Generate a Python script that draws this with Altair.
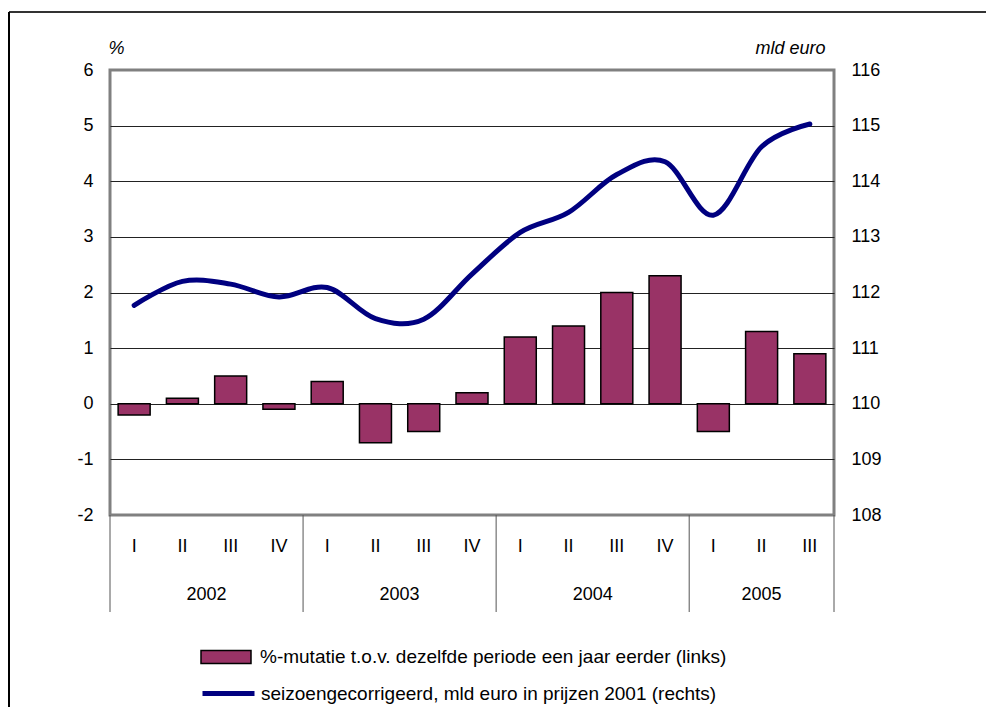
import altair as alt
import pandas as pd

# ---- data ----
quarters = ["I", "II", "III", "IV", "I", "II", "III", "IV", "I", "II", "III", "IV", "I", "II", "III"]
years = ["2002"] * 4 + ["2003"] * 4 + ["2004"] * 4 + ["2005"] * 3
pct_change = [-0.2, 0.1, 0.5, -0.1, 0.4, -0.7, -0.5, 0.2, 1.2, 1.4, 2.0, 2.3, -0.5, 1.3, 0.9]
level_bn = [111.77, 112.20, 112.15, 111.92, 112.09, 111.53, 111.52, 112.33,
            113.08, 113.44, 114.12, 114.35, 113.39, 114.62, 115.03]

bar_label = "%-mutatie t.o.v. dezelfde periode een jaar eerder (links)"
line_label = "seizoengecorrigeerd, mld euro in prijzen 2001 (rechts)"
left_ticks = [-2, -1, 0, 1, 2, 3, 4, 5, 6]
right_ticks = [108, 109, 110, 111, 112, 113, 114, 115, 116]

FONT = "Liberation Sans"
W, H = 724, 445

df = pd.DataFrame({"quarter": quarters, "year": years, "pct": pct_change, "level": level_bn})
df["pos"] = [i + 0.5 for i in range(len(df))]
df["bar_series"] = bar_label
df["line_series"] = line_label

# year groups derived from the quarter list
yr_rows = []
for y in dict.fromkeys(years):
    idx = [i for i, v in enumerate(years) if v == y]
    yr_rows.append({"year": y, "mid": (idx[0] + idx[-1] + 1) / 2})
yr_df = pd.DataFrame(yr_rows)
bounds = [0] + [max(i for i, v in enumerate(years) if v == y) + 1 for y in dict.fromkeys(years)]
sep_df = pd.DataFrame({"b": bounds})

xscale = alt.Scale(domain=[0, len(quarters)], nice=False, zero=False, padding=0)

bars = alt.Chart(df).mark_bar(width=32, stroke="black", strokeWidth=1.5).encode(
    x=alt.X("pos:Q", scale=xscale, axis=None),
    y=alt.Y("pct:Q", scale=alt.Scale(domain=[-2, 6], nice=False, zero=False),
            axis=alt.Axis(orient="left", values=left_ticks, grid=True,
                          gridColor={"condition": {"test": "datum.value == 6 || datum.value == -2",
                                                   "value": "transparent"}, "value": "#222"},
                          gridWidth=1, domain=False, ticks=False, tickSize=0,
                          labelExpr="'' + datum.value",
                          labelPadding=17, labelFontSize=18, labelFont=FONT, labelColor="black",
                          title="%", titleAngle=0, titleAlign="left", titleBaseline="middle",
                          titleX=-2, titleY=-22, titleFontStyle="italic", titleFontWeight="normal",
                          titleFontSize=18, titleFont=FONT, titleColor="black")),
    y2=alt.datum(0),
    fill=alt.Fill("bar_series:N", scale=alt.Scale(range=["#993366"]),
                  legend=alt.Legend(orient="none", legendX=90, legendY=561, title=None,
                                    symbolType="M-1,-0.26H1V0.26H-1Z", symbolSize=2500,
                                    symbolStrokeColor="black", symbolStrokeWidth=1.5,
                                    labelFontSize=19, labelFont=FONT, labelColor="black",
                                    labelOffset=8, labelLimit=1000, padding=0)),
)

line = alt.Chart(df).mark_line(interpolate="cardinal", strokeWidth=5, strokeCap="round").encode(
    x=alt.X("pos:Q", scale=xscale, axis=None),
    y=alt.Y("level:Q", scale=alt.Scale(domain=[108, 116], nice=False, zero=False),
            axis=alt.Axis(orient="right", values=right_ticks, grid=False, domain=False,
                          ticks=False, tickSize=0, labelPadding=17, labelFontSize=18,
                          labelFont=FONT, labelColor="black",
                          title="mld euro", titleAngle=0, titleAlign="right", titleBaseline="middle",
                          titleX=-9, titleY=-22, titleFontStyle="italic", titleFontWeight="normal",
                          titleFontSize=18, titleFont=FONT, titleColor="black")),
    stroke=alt.Stroke("line_series:N", scale=alt.Scale(range=["#000080"]),
                      legend=alt.Legend(orient="none", legendX=90, legendY=595, title=None,
                                        symbolType="stroke", symbolSize=2704, symbolStrokeWidth=5,
                                        labelFontSize=19, labelFont=FONT, labelColor="black",
                                        labelOffset=4, labelLimit=1000, padding=0)),
)

q_labels = alt.Chart(df).mark_text(fontSize=18, font=FONT, color="black", baseline="middle").encode(
    x=alt.X("pos:Q", scale=xscale, axis=None),
    y=alt.value(H + 32),
    text="quarter:N",
)

y_labels = alt.Chart(yr_df).mark_text(fontSize=18, font=FONT, color="black", baseline="middle").encode(
    x=alt.X("mid:Q", scale=xscale, axis=None),
    y=alt.value(H + 80),
    text="year:N",
)

seps = alt.Chart(sep_df).mark_rule(color="#555", strokeWidth=1).encode(
    x=alt.X("b:Q", scale=xscale, axis=None),
    y=alt.value(H),
    y2=alt.value(H + 97),
)

frame_top = alt.Chart(pd.DataFrame({"k": [0]})).mark_rule(color="#333", strokeWidth=2).encode(
    x=alt.value(-101), x2=alt.value(880), y=alt.value(-58))
frame_left = alt.Chart(pd.DataFrame({"k": [0]})).mark_rule(color="black", strokeWidth=2).encode(
    x=alt.value(-101), y=alt.value(-58), y2=alt.value(640))

chart = alt.layer(bars, line, q_labels, y_labels, seps, frame_top, frame_left).resolve_scale(
    y="independent"
).properties(
    width=W, height=H,
    background="white",
    autosize=alt.AutoSizeParams(type="none"),
    padding={"left": 102, "top": 62, "right": 152, "bottom": 192},
).configure_view(stroke="#808080", strokeWidth=3)

chart.save("out.html", embed_options={"renderer": "svg", "actions": False})
